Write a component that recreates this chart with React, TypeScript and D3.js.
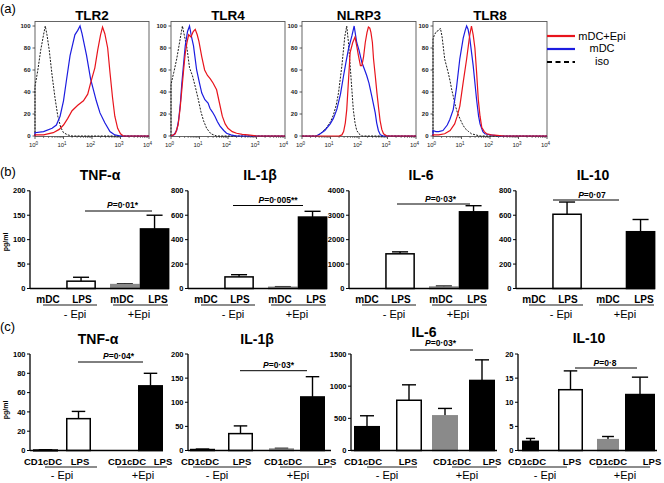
import React from "react";
import * as d3 from "d3";

// ---------------- (a) flow-cytometry histograms ----------------
const histTitles = ["TLR2", "TLR4", "NLRP3", "TLR8"];
// points: [log10 fluorescence, % of max]
const histRed: [number, number][][] = [
  [[0,0],[0,1],[0.3,1],[0.64,3],[0.85,6],[1.0,10],[1.15,16],[1.3,23],[1.5,28],[1.7,32],[1.85,38],[1.95,48],[2.1,62],[2.2,78],[2.3,92],[2.37,99],[2.45,93],[2.55,80],[2.63,58],[2.72,35],[2.8,18],[2.9,7],[3.0,2],[3.1,0],[4,0]],
  [[0,0],[0.15,2],[0.25,10],[0.32,25],[0.38,42],[0.45,62],[0.5,75],[0.56,85],[0.62,92],[0.7,90],[0.78,95],[0.85,97],[0.92,92],[0.98,86],[1.08,72],[1.18,60],[1.28,55],[1.38,52],[1.48,48],[1.6,42],[1.7,30],[1.8,18],[1.9,11],[2.0,7],[2.15,4],[2.3,2.5],[2.5,1.5],[2.7,1],[3.0,0],[4,0]],
  [[0,0],[1.3,0],[1.4,1],[1.46,4],[1.52,12],[1.57,24],[1.63,50],[1.69,76],[1.78,85],[1.86,90],[1.92,82],[1.98,73],[2.05,64],[2.1,64],[2.16,72],[2.22,85],[2.28,94],[2.33,99],[2.38,98],[2.42,94],[2.47,85],[2.51,70],[2.57,55],[2.63,39],[2.69,25],[2.74,14],[2.8,6],[2.86,2],[2.98,0],[4,0]],
  [[0,0],[0,1],[0.2,1],[0.41,2],[0.6,5],[0.76,11],[0.85,18],[0.94,27],[1.06,49],[1.18,70],[1.29,92],[1.35,100],[1.41,92],[1.47,80],[1.53,58],[1.59,33],[1.65,18],[1.71,8],[1.8,4],[1.88,2],[2.05,1],[2.25,0.5],[2.5,0],[4,0]],
];
const histBlue: [number, number][][] = [
  [[0,0],[0,3],[0.3,4],[0.6,7],[0.75,10],[0.88,18],[1.0,32],[1.1,50],[1.23,73],[1.4,92],[1.5,96],[1.58,100],[1.65,93],[1.81,73],[1.95,52],[2.05,42],[2.15,32],[2.28,21],[2.45,12],[2.63,4],[2.8,1],[3,0],[4,0]],
  [[0,0],[0.1,1],[0.2,5],[0.27,15],[0.33,30],[0.38,48],[0.45,68],[0.5,82],[0.58,95],[0.65,100],[0.72,90],[0.79,82],[0.9,60],[1.0,48],[1.08,39],[1.19,33],[1.3,30],[1.37,25],[1.45,22],[1.54,18],[1.63,13],[1.72,9],[1.85,5],[1.95,2.5],[2.1,1],[2.3,0],[4,0]],
  [[0,0],[0.5,0],[0.64,2],[0.8,5],[0.99,11],[1.1,16],[1.22,24],[1.35,38],[1.46,55],[1.55,68],[1.63,79],[1.75,91],[1.83,100],[1.92,85],[2.0,78],[2.1,67],[2.2,60],[2.27,55],[2.35,48],[2.45,36],[2.57,21],[2.62,12],[2.68,5],[2.75,1],[2.85,0],[4,0]],
  [[0,0],[0,5],[0.1,4],[0.2,4],[0.35,5],[0.5,10],[0.59,15],[0.71,24],[0.82,43],[0.94,70],[1.06,89],[1.13,96],[1.18,100],[1.23,97],[1.29,89],[1.41,64],[1.53,33],[1.6,18],[1.65,11],[1.75,4],[1.82,2],[2.0,1],[2.35,0],[4,0]],
];
const histIso: [number, number][][] = [
  [[0,0],[0,45],[0.1,60],[0.2,78],[0.3,92],[0.36,100],[0.42,92],[0.5,78],[0.6,55],[0.7,35],[0.8,18],[0.9,8],[1.0,3],[1.15,1],[1.3,0],[4,0]],
  [[0,0],[0,47],[0.1,58],[0.2,70],[0.3,85],[0.4,100],[0.48,90],[0.56,80],[0.65,62],[0.75,55],[0.85,45],[0.96,33],[1.05,22],[1.14,14],[1.25,7],[1.4,2],[1.6,0],[4,0]],
  [[0,0],[0.5,0],[0.64,2],[0.87,8],[1.0,13],[1.1,19],[1.2,28],[1.28,39],[1.4,64],[1.5,90],[1.57,100],[1.63,85],[1.69,64],[1.75,42],[1.8,24],[1.86,12],[1.92,5],[2.0,2],[2.1,0],[4,0]],
  [[0,0],[0,88],[0.05,92],[0.12,95],[0.2,96],[0.26,98],[0.32,90],[0.41,70],[0.47,64],[0.53,58],[0.6,50],[0.65,43],[0.72,35],[0.79,27],[0.86,21],[0.94,16],[1.03,11],[1.12,7],[1.25,4],[1.35,2],[1.5,1],[1.65,0],[4,0]],
];
const histYTicks = [0, 20, 40, 60, 80, 100];
const histXDecades = [0, 1, 2, 3, 4];
const legendLabels = ["mDC+Epi", "mDC", "iso"];

// ---------------- (b) mDC cytokines ----------------
const cytokines = ["TNF-α", "IL-1β", "IL-6", "IL-10"];
const groupLabels = ["- Epi", "+Epi"];
const bCategories = ["mDC", "LPS", "mDC", "LPS"];
const bMeans = [[0, 15, 8, 122], [0, 95, 10, 585], [0, 1420, 60, 3140], [0, 608, 0, 465]];
const bErrors = [[0, 8, 1.5, 28], [0, 18, 5, 47], [0, 80, 40, 250], [0, 100, 0, 100]];
const bTicks = [[0, 50, 100, 150, 200], [0, 200, 400, 600, 800], [0, 1000, 2000, 3000, 4000], [0, 200, 400, 600, 800]];
const bPValues = ["0·01*", "0·005**", "0·03*", "0·07"];

// ---------------- (c) CD1c DC cytokines ----------------
const cCategories = ["CD1cDC", "LPS", "CD1cDC", "LPS"];
const cMeans = [[0.5, 33, 0, 67], [2, 35, 3, 111], [370, 781, 539, 1089], [1.9, 12.6, 2.25, 11.6]];
const cErrors = [[0.3, 7.5, 0, 13], [1, 16, 1.5, 42], [170, 240, 115, 320], [0.6, 3.9, 0.65, 3.6]];
const cTicks = [[0, 20, 40, 60, 80, 100], [0, 50, 100, 150, 200], [0, 500, 1000, 1500], [0, 5, 10, 15, 20]];
const cPValues = ["0·04*", "0·03*", "0·03*", "0·8"];

// ---------------- layout (positions, not data) ----------------
const FONT = "'Liberation Sans', Arial, Helvetica, sans-serif";
const RED = "#e8141c";
const BLUE = "#1c1ce0";
const histLefts = [35, 171, 302, 433];
const HW = 114;

type Layout = {
  L: number; offsets: number[]; widths: number[]; axisLen: number;
  labels: number[]; underlines: number[][]; groups: number[];
  sig: number[]; // x1, x2, lineY, textDx, textY
  titleX: number; titleY: number;
};

const bFills = ["#ffffff", "#ffffff", "#8a8a8a", "#000000"];
const cFills = ["#000000", "#ffffff", "#8a8a8a", "#000000"];

const bCommon = { offsets: [6.5, 36.2, 80, 109.7], widths: [29.7, 29.7, 29.7, 29.7], axisLen: 139, labels: [18, 52, 92, 128], underlines: [[13, 67], [83, 138]], groups: [45, 109], titleY: 180 };
const bLayouts: Layout[] = [
  { L: 30, ...bCommon, sig: [55, 122, 211, 4, 208], titleX: 100 },
  { L: 188, ...bCommon, sig: [45, 115, 205.5, 10, 203], titleX: 260 },
  { L: 349, ...bCommon, sig: [48, 121, 204, 7, 201.5], titleX: 421 },
  { L: 516, ...bCommon, sig: [37, 103, 200, 6, 197.5], titleX: 593 },
];
const cLayouts: Layout[] = [
  { L: 30, offsets: [3, 36, 75, 108], widths: [25, 25, 25, 25], axisLen: 133, labels: [13, 50, 97, 133], underlines: [[15, 67], [87, 137]], groups: [32, 113], sig: [48, 113, 362, 8, 359], titleX: 98, titleY: 344 },
  { L: 188, offsets: [2, 40, 81, 112], widths: [25, 25, 25, 25], axisLen: 143, labels: [12, 54, 95, 139], underlines: [[5, 59], [92, 144]], groups: [29, 110], sig: [52, 119, 370.7, 5, 368], titleX: 257, titleY: 344 },
  { L: 351, offsets: [3, 45, 81, 118], widths: [26, 26, 26, 26], axisLen: 146, labels: [12, 57, 101, 141], underlines: [[16, 66], [101, 146]], groups: [36, 116], sig: [59, 122, 350, -1, 346], titleX: 424, titleY: 336.5 },
  { L: 518, offsets: [4, 40, 79, 107], widths: [17, 25, 22, 30], axisLen: 139, labels: [9, 54, 90, 134], underlines: [[2, 49], [79, 132]], groups: [27, 107], sig: [57, 119, 368, -1, 365.5], titleX: 589, titleY: 343 },
];

function Histogram({ idx }: { idx: number }) {
  const left = histLefts[idx];
  const x = d3.scaleLog().domain([1, 1e4]).range([left, left + HW]);
  const y = d3.scaleLinear().domain([0, 100]).range([136, 26]);
  const line = d3.line<[number, number]>().x(d => x(Math.pow(10, d[0]))).y(d => y(d[1]));
  const minor: number[] = [];
  for (let dcd = 0; dcd < 4; dcd++) for (let m = 2; m < 10; m++) minor.push(m * Math.pow(10, dcd));
  return (
    <g>
      <text x={left + HW / 2} y={19.5} textAnchor="middle" fontFamily={FONT} fontWeight="bold" fontSize={13.5}>{histTitles[idx]}</text>
      <rect x={left} y={21.5} width={HW} height={115} fill="none" stroke="#555" strokeWidth={0.9} />
      {histYTicks.map(t => (
        <g key={t}>
          <line x1={left - 2.5} x2={left} y1={y(t)} y2={y(t)} stroke="#333" strokeWidth={0.8} />
          <text x={left - 4.5} y={y(t) + 2.2} textAnchor="end" fontFamily={FONT} fontWeight="bold" fontSize={6} fill="#222">{t}</text>
        </g>
      ))}
      {minor.map((m, i) => (
        <line key={i} x1={x(m)} x2={x(m)} y1={136.5} y2={138} stroke="#333" strokeWidth={0.6} />
      ))}
      {histXDecades.map(dcd => (
        <g key={dcd}>
          <line x1={x(Math.pow(10, dcd))} x2={x(Math.pow(10, dcd))} y1={136.5} y2={139} stroke="#333" strokeWidth={0.8} />
          <text x={x(Math.pow(10, dcd)) - 1.5} y={147} textAnchor="middle" fontFamily={FONT} fontSize={6} fill="#222">
            10<tspan fontSize={4.5} dy={-2.5}>{dcd}</tspan>
          </text>
        </g>
      ))}
      <path d={line(histIso[idx]) || ""} fill="none" stroke="#000" strokeWidth={0.9} strokeDasharray="2,1.3" />
      <path d={line(histBlue[idx]) || ""} fill="none" stroke={BLUE} strokeWidth={1.2} />
      <path d={line(histRed[idx]) || ""} fill="none" stroke={RED} strokeWidth={1.2} />
    </g>
  );
}

function BarChart({ lay, means, errs, ticks, fills, cats, title, p, y0, yTop, labelY, underY, groupY }: {
  lay: Layout; means: number[]; errs: number[]; ticks: number[]; fills: string[]; cats: string[]; title: string; p: string;
  y0: number; yTop: number; labelY: number; underY: number; groupY: number;
}) {
  const L = lay.L;
  const max = ticks[ticks.length - 1];
  const y = d3.scaleLinear().domain([0, max]).range([y0, yTop]);
  const x = d3.scaleLinear().domain([0, lay.axisLen]).range([L, L + lay.axisLen]);
  const labelSize = cats[0] === "mDC" ? 10 : 9.5;
  return (
    <g fontFamily={FONT}>
      <text x={lay.titleX} y={lay.titleY} textAnchor="middle" fontWeight="bold" fontSize={14}>{title}</text>
      {means.map((m, i) => {
        if (m <= 0) return null;
        const bx = x(lay.offsets[i]);
        const w = lay.widths[i];
        const cx = bx + w / 2;
        const fill = fills[i];
        const stroke = fill === "#8a8a8a" ? "#8a8a8a" : "#000";
        const top = y(m + errs[i]);
        return (
          <g key={i}>
            {errs[i] > 0 && (
              <g>
                <line x1={cx} x2={cx} y1={y(m)} y2={top} stroke="#000" strokeWidth={1.4} />
                <line x1={cx - w * 0.27} x2={cx + w * 0.27} y1={top} y2={top} stroke="#000" strokeWidth={1.4} />
              </g>
            )}
            <rect x={bx + 0.75} y={y(m)} width={w - 1.5} height={Math.max(0.8, y0 - y(m))} fill={fill} stroke={stroke} strokeWidth={1.5} />
          </g>
        );
      })}
      <line x1={L} x2={L} y1={yTop} y2={y0} stroke="#000" strokeWidth={1.3} />
      <line x1={L} x2={L + lay.axisLen} y1={y0} y2={y0} stroke="#000" strokeWidth={1.3} />
      {ticks.map(t => (
        <g key={t}>
          <line x1={L - 3} x2={L} y1={y(t)} y2={y(t)} stroke="#000" strokeWidth={1} />
          <text x={L - 4.5} y={y(t) + 2.6} textAnchor="end" fontWeight="bold" fontSize={7.5}>{t}</text>
        </g>
      ))}
      {cats.map((c, i) => (
        <text key={i} x={x(lay.labels[i])} y={labelY} textAnchor="middle" fontWeight="bold" fontSize={labelSize}>{c}</text>
      ))}
      {lay.underlines.map((u, i) => (
        <line key={i} x1={x(u[0])} x2={x(u[1])} y1={underY} y2={underY} stroke="#000" strokeWidth={0.9} />
      ))}
      {groupLabels.map((g, i) => (
        <text key={i} x={x(lay.groups[i])} y={groupY} textAnchor="middle" fontSize={11}>{g}</text>
      ))}
      <line x1={x(lay.sig[0])} x2={x(lay.sig[1])} y1={lay.sig[2]} y2={lay.sig[2]} stroke="#000" strokeWidth={1} />
      <text x={(x(lay.sig[0]) + x(lay.sig[1])) / 2 + lay.sig[3]} y={lay.sig[4]} textAnchor="middle" fontWeight="bold" fontSize={8.5}>
        <tspan fontStyle="italic">P</tspan>={p}
      </text>
    </g>
  );
}

export default function App() {
  const legendColors = [RED, BLUE, "#000"];
  return (
    <div style={{ position: "fixed", left: 0, top: 0, width: 664, height: 483, background: "#fff" }}>
      <svg width={664} height={483} viewBox="0 0 664 483" style={{ display: "block" }}>
        <rect width={664} height={483} fill="#fff" />
        <text x={0} y={13} fontFamily={FONT} fontSize={13}>(a)</text>
        <text x={0} y={176} fontFamily={FONT} fontSize={13}>(b)</text>
        <text x={0} y={331} fontFamily={FONT} fontSize={13}>(c)</text>

        {histTitles.map((_, i) => <Histogram key={i} idx={i} />)}
        {legendLabels.map((lab, i) => (
          <g key={lab}>
            <line x1={547} x2={575} y1={36 + i * 13} y2={36 + i * 13} stroke={legendColors[i]} strokeWidth={2.2}
              strokeDasharray={i === 2 ? "5,3.5" : undefined} />
            <text x={602} y={40 + i * 12.3} textAnchor="middle" fontFamily={FONT} fontSize={11}>{lab}</text>
          </g>
        ))}

        <text transform="translate(8,242) rotate(-90)" textAnchor="middle" fontFamily={FONT} fontWeight="bold" fontSize={7}>pg/ml</text>
        <text transform="translate(8,410) rotate(-90)" textAnchor="middle" fontFamily={FONT} fontWeight="bold" fontSize={7}>pg/ml</text>

        {cytokines.map((c, i) => (
          <BarChart key={"b" + i} lay={bLayouts[i]} means={bMeans[i]} errs={bErrors[i]} ticks={bTicks[i]} fills={bFills}
            cats={bCategories} title={c} p={bPValues[i]} y0={288.5} yTop={190.8} labelY={302.5} underY={305} groupY={317.5} />
        ))}
        {cytokines.map((c, i) => (
          <BarChart key={"c" + i} lay={cLayouts[i]} means={cMeans[i]} errs={cErrors[i]} ticks={cTicks[i]} fills={cFills}
            cats={cCategories} title={c} p={cPValues[i]} y0={450.5} yTop={354} labelY={464.5} underY={467} groupY={479} />
        ))}
      </svg>
    </div>
  );
}
